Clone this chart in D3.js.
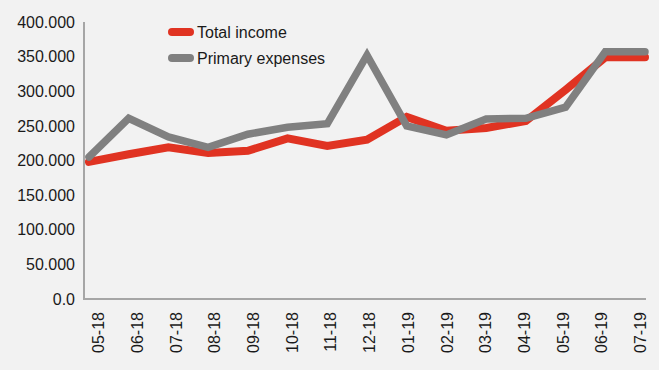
<!DOCTYPE html>
<html>
<head>
<meta charset="utf-8">
<script src="https://cdn.jsdelivr.net/npm/d3@7"></script>
<style>
  html, body { margin: 0; padding: 0; background: #f2f2f2; }
  svg { display: block; font-family: "Liberation Sans", Arial, sans-serif; }
</style>
</head>
<body>
<svg id="chart" width="659" height="370"></svg>
<script>
// Monthly categories
const months = ["05-18","06-18","07-18","08-18","09-18","10-18","11-18","12-18",
                "01-19","02-19","03-19","04-19","05-19","06-19","07-19"];
// Series values
const totalIncome = [198000, 209000, 219000, 211000, 214000, 232000, 221000, 230000,
                     263000, 243000, 247000, 257000, 302000, 349000, 349000];
const primaryExpenses = [205000, 261000, 234000, 219000, 238000, 248000, 253000, 352000,
                         250000, 237000, 260000, 261000, 277000, 357000, 357000];
// Y-axis ticks
const yTicks = [0, 50000, 100000, 150000, 200000, 250000, 300000, 350000, 400000];
const yTickLabels = ["0.0","50.000","100.000","150.000","200.000","250.000","300.000","350.000","400.000"];

const seriesNames = ["Total income", "Primary expenses"];
const seriesColors = ["#e03322", "#808080"];

const svg = d3.select("#chart");
svg.append("rect").attr("width", 659).attr("height", 370).attr("fill", "#f2f2f2");

const x = d3.scalePoint().domain(months).range([89, 645]);
const xLabel = d3.scalePoint().domain(months).range([98, 640]);
const y = d3.scaleLinear().domain([0, 400000]).range([299, 22]);

// Y tick labels
const yAxis = d3.axisLeft(y).tickValues(yTicks)
  .tickFormat((d, i) => yTickLabels[i]).tickSize(0).tickPadding(9);
const gy = svg.append("g").attr("transform", "translate(84,0)").call(yAxis);
gy.select(".domain").remove();
gy.selectAll("text").attr("font-size", 16).attr("fill", "#1a1a1a")
  .attr("font-family", "Liberation Sans, Arial, sans-serif");

// X tick labels, rotated
const xAxis = d3.axisBottom(xLabel).tickSize(0).tickPadding(0);
const gx = svg.append("g").attr("transform", "translate(0,300)").call(xAxis);
gx.select(".domain").remove();
gx.selectAll("text")
  .attr("font-size", 16).attr("fill", "#1a1a1a")
  .attr("font-family", "Liberation Sans, Arial, sans-serif")
  .attr("transform", "rotate(-90)")
  .attr("text-anchor", "end")
  .attr("x", -12).attr("y", 0).attr("dy", "0.35em");

// Axis lines
svg.append("line").attr("x1", 84).attr("x2", 84).attr("y1", 22).attr("y2", 299.5)
  .attr("stroke", "#a6a6a6").attr("stroke-width", 2);
svg.append("line").attr("x1", 83).attr("x2", 646).attr("y1", 299).attr("y2", 299)
  .attr("stroke", "#a6a6a6").attr("stroke-width", 2);

// Lines
const line = d3.line().x((d, i) => x(months[i])).y(d => y(d));
[totalIncome, primaryExpenses].forEach((vals, k) => {
  svg.append("path").datum(vals)
    .attr("d", line)
    .attr("fill", "none")
    .attr("stroke", seriesColors[k])
    .attr("stroke-width", k === 0 ? 8 : 7.5)
    .attr("stroke-linecap", "round")
    .attr("stroke-linejoin", "miter");
});

// Legend
const legend = svg.append("g");
seriesNames.forEach((name, k) => {
  const cy = 32 + k * 26;
  legend.append("line").attr("x1", 172).attr("x2", 190).attr("y1", cy).attr("y2", cy)
    .attr("stroke", seriesColors[k]).attr("stroke-width", 8).attr("stroke-linecap", "round");
  legend.append("text").attr("x", 197).attr("y", cy).attr("dy", "0.35em")
    .attr("font-size", 16).attr("fill", "#1a1a1a").text(name);
});
</script>
</body>
</html>
